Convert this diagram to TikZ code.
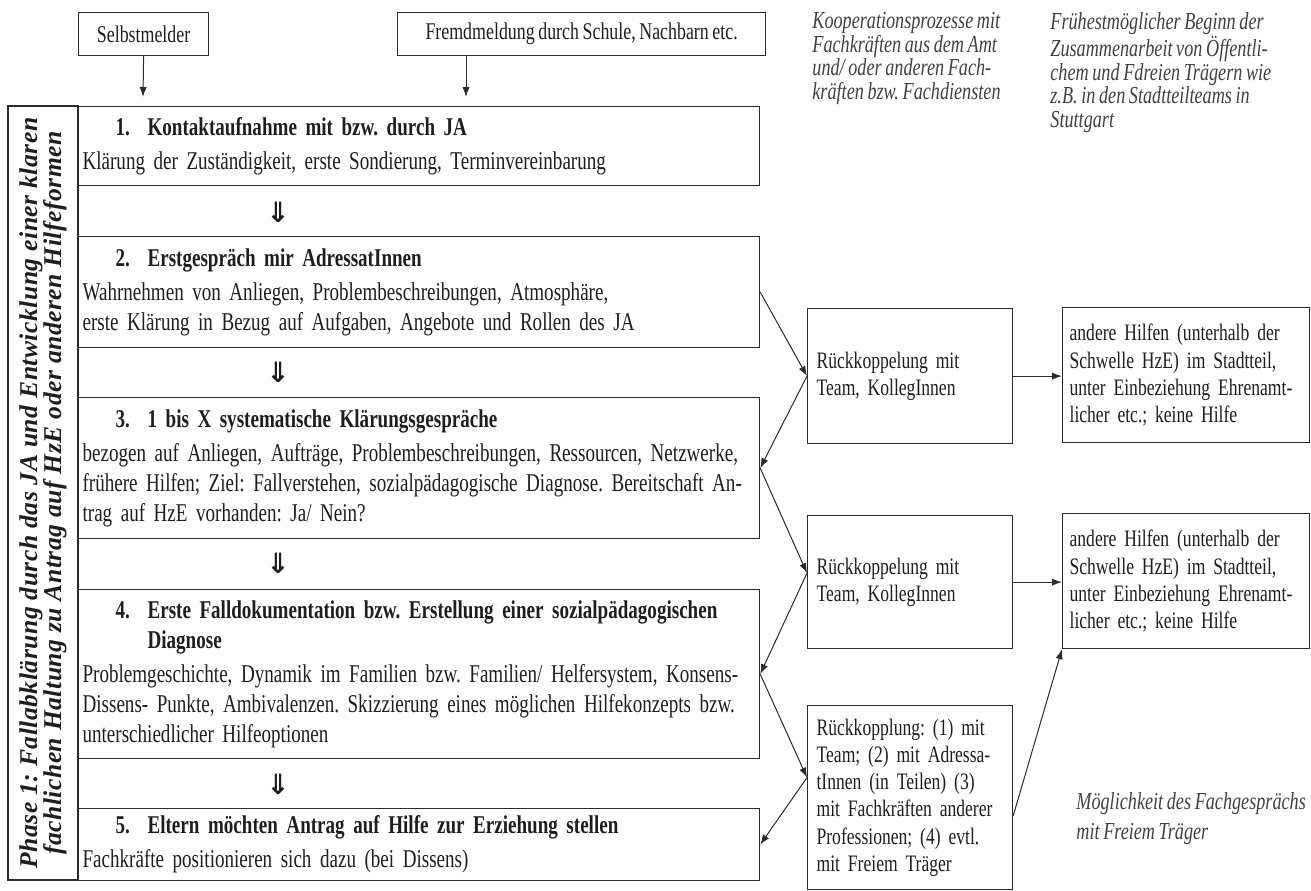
\documentclass[tikz,border=0pt]{standalone}
\usepackage{fontspec}
\setmainfont{Liberation Serif}[FakeStretch=0.745, WordSpace=0.8]
\newfontfamily\phasefont{Liberation Serif}[LetterSpace=2]
\newfontfamily\arrowfont{DejaVu Sans}
\usetikzlibrary{
  arrows.meta,
  positioning,
}
\definecolor{inkline}{HTML}{2b2b2b}
\definecolor{inktext}{HTML}{1e1e1e}
\newcommand{\stephead}[2]{\hspace*{16.5pt}\makebox[16pt][l]{\bfseries #1}\textbf{#2}}

\begin{document}
\frenchspacing
\begin{tikzpicture}[
  x=0.5pt, y=-0.5pt,
  stepbox/.style={
    draw=inkline, line width=0.6pt, anchor=north west,
    text width=336.5pt, inner xsep=2pt, inner ysep=0pt, align=left,
    font=\fontsize{12.8}{15}\selectfont, text=inktext,
  },
  sourcebox/.style={
    draw=inkline, line width=0.6pt, anchor=north west,
    minimum height=21.5pt, inner sep=0pt,
    font=\fontsize{12}{14}\selectfont, text=inktext,
  },
  fbbox/.style={
    draw=inkline, line width=0.6pt, anchor=north west,
    text width=93.5pt, inner xsep=4.5pt, inner ysep=0pt, align=left,
    font=\fontsize{11.8}{13.6}\selectfont, text=inktext,
  },
  helpbox/.style={
    fbbox, text width=116.5pt, inner xsep=3.5pt,
  },
  note/.style={
    anchor=north west, inner sep=0pt, align=left,
    font=\itshape\fontsize{12.2}{11.8}\selectfont, text=inktext!85,
  },
  downmark/.style={
    inner sep=0pt, font=\arrowfont\bfseries\fontsize{14}{14}\selectfont, text=inktext,
  },
  conn/.style={
    -{Latex[length=5pt,width=3.6pt]}, line width=0.5pt, draw=inkline,
  },
]
  \useasboundingbox (0,0) rectangle (1311,890);

  % --- Meldungen ---
  \node[sourcebox, minimum width=65pt] (selbst) at (78,12) {Selbstmelder};
  \node[sourcebox, minimum width=184pt] (fremd) at (397,12)
    {Fremdmeldung durch Schule, Nachbarn etc.};
  \coordinate (selbstin) at (143,97);
  \coordinate (fremdin) at (466,97);
  \draw[conn] (selbst.south) -- (selbstin);
  \draw[conn] (fremd.south -| fremdin) -- (fremdin);

  % --- Phase column ---
  \node[draw=inkline, line width=0.6pt, rotate=90, minimum width=387pt,
    minimum height=35pt, inner sep=0pt, align=center, text=inktext,
    font=\phasefont\bfseries\itshape\fontsize{12.8}{12}\selectfont] (phase) at (43,493)
    {Phase 1: Fallabklärung durch das JA und Entwicklung einer klaren\\
     fachlichen Haltung zu Antrag auf HzE oder anderen Hilfeformen};

  % --- Schritte ---
  \node[stepbox, minimum height=39.5pt] (s1) at (78,106)
    {\stephead{1.}{Kontaktaufnahme mit bzw. durch JA}\\[2pt]
     Klärung der Zuständigkeit, erste Sondierung, Terminvereinbarung};
  \node[stepbox, minimum height=55.5pt] (s2) at (78,236)
    {\stephead{2.}{Erstgespräch mir AdressatInnen}\\[2pt]
     Wahrnehmen von Anliegen, Problembeschreibungen, Atmosphäre,\\
     erste Klärung in Bezug auf Aufgaben, Angebote und Rollen des JA};
  \node[stepbox, minimum height=70.5pt] (s3) at (78,397)
    {\stephead{3.}{1 bis X systematische Klärungsgespräche}\\[2pt]
     bezogen auf Anliegen, Aufträge, Problembeschreibungen, Ressourcen, Netzwerke,\\
     frühere Hilfen; Ziel: Fallverstehen, sozialpädagogische Diagnose. Bereitschaft An-\\
     trag auf HzE vorhanden: Ja/ Nein?};
  \node[stepbox, minimum height=84.5pt] (s4) at (78,589)
    {\stephead{4.}{Erste Falldokumentation bzw. Erstellung einer sozialpädagogischen}\\
     \hspace*{32.5pt}\textbf{Diagnose}\\[2pt]
     Problemgeschichte, Dynamik im Familien bzw. Familien/ Helfersystem, Konsens-\\
     Dissens- Punkte, Ambivalenzen. Skizzierung eines möglichen Hilfekonzepts bzw.\\
     unterschiedlicher Hilfeoptionen};
  \node[stepbox, minimum height=36pt] (s5) at (78,808)
    {\stephead{5.}{Eltern möchten Antrag auf Hilfe zur Erziehung stellen}\\[2pt]
     Fachkräfte positionieren sich dazu (bei Dissens)};

  \node[downmark] (d1) at (278,212) {⇓};
  \node[downmark] (d2) at (278,372) {⇓};
  \node[downmark] (d3) at (278,563) {⇓};
  \node[downmark] (d4) at (278,784) {⇓};

  % --- Rueckkopplung ---
  \node[fbbox, minimum height=67.5pt] (rk1) at (807,308)
    {Rückkoppelung mit\\ Team, KollegInnen};
  \node[fbbox, minimum height=66.5pt] (rk2) at (807,515)
    {Rückkoppelung mit\\ Team, KollegInnen};
  \node[fbbox, minimum height=92pt] (rk3) at (807,705)
    {Rückkopplung: (1) mit\\ Team; (2) mit Adressa-\\ tInnen (in Teilen) (3)\\
     mit Fachkräften anderer\\ Professionen; (4) evtl.\\ mit Freiem Träger};

  \node[helpbox, minimum height=67.5pt] (hilfe1) at (1062,307)
    {andere Hilfen (unterhalb der\\ Schwelle HzE) im Stadtteil,\\
     unter Einbeziehung Ehrenamt-\\ licher etc.; keine Hilfe};
  \node[helpbox, minimum height=67.5pt] (hilfe2) at (1062,513)
    {andere Hilfen (unterhalb der\\ Schwelle HzE) im Stadtteil,\\
     unter Einbeziehung Ehrenamt-\\ licher etc.; keine Hilfe};

  \draw[conn] (s2.east) -- (rk1.west);
  \draw[conn] (rk1.west) -- (s3.east);
  \draw[conn] (s3.east) -- (rk2.175);
  \draw[conn] (rk2.175) -- (s4.east);
  \draw[conn] (s4.east) -- (rk3.169);
  \draw[conn] (rk3.169) -- (s5.east);
  \draw[conn] (rk1.east) -- (rk1.east -| hilfe1.west);
  \draw[conn] (rk2.east) -- (rk2.east -| hilfe2.west);
  \draw[conn] (rk3.350) -- (hilfe2.south west);

  % --- Anmerkungen ---
  \node[note] (koop) at (812,12)
    {Kooperationsprozesse mit\\ Fachkräften aus dem Amt\\
     und/ oder anderen Fach-\\ kräften bzw. Fachdiensten};
  \node[note] (beginn) at (1050,12)
    {Frühestmöglicher Beginn der\\ Zusammenarbeit von Öffentli-\\
     chem und Fdreien Trägern wie\\ z.B. in den Stadtteilteams in\\ Stuttgart};
  \node[note, font=\itshape\fontsize{12.2}{15}\selectfont] (fachgespraech) at (1076,792)
    {Möglichkeit des Fachgesprächs\\ mit Freiem Träger};
\end{tikzpicture}
\end{document}
